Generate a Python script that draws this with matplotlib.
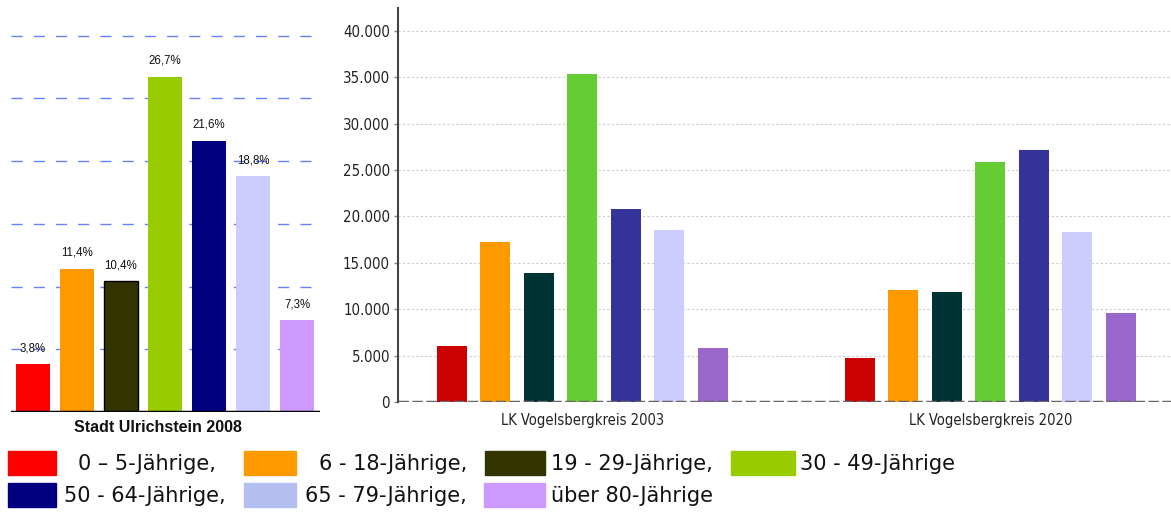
import matplotlib
matplotlib.use("Agg")
import matplotlib.pyplot as plt
from matplotlib.patches import Rectangle
from matplotlib.ticker import FuncFormatter

# data
age_groups = ["0 – 5-Jährige,", "6 - 18-Jährige,", "19 - 29-Jährige,", "30 - 49-Jährige",
              "50 - 64-Jährige,", "65 - 79-Jährige,", "über 80-Jährige"]
ulrichstein_2008 = [3.8, 11.4, 10.4, 26.7, 21.6, 18.8, 7.3]
vogelsberg_2003 = [6000, 17200, 13900, 35300, 20800, 18500, 5800]
vogelsberg_2020 = [4700, 12100, 11800, 25900, 27200, 18300, 9600]
group_labels = ["LK Vogelsbergkreis 2003", "LK Vogelsbergkreis 2020"]

left_colors = ["#ff0000", "#ff9900", "#333300", "#99cc00", "#000080", "#ccccff", "#cc99ff"]
right_colors = ["#cc0000", "#ff9900", "#003333", "#66cc33", "#333399", "#ccccff", "#9966cc"]
legend_colors = ["#ff0000", "#ff9900", "#333300", "#99cc00", "#000080", "#b3bff0", "#cc99ff"]

W, H = 1171, 513
fig = plt.figure(figsize=(W / 100, H / 100), dpi=100)

def px_axes(left, top, right, bottom):
    return fig.add_axes([left / W, 1 - bottom / H, (right - left) / W, (bottom - top) / H])

# left chart: Stadt Ulrichstein 2008
ax1 = px_axes(11, 0, 320, 412)
for i, v in enumerate(ulrichstein_2008):
    ec = "black" if i == 2 else "none"
    ax1.bar(i, v, width=0.77, color=left_colors[i], edgecolor=ec, linewidth=1, zorder=2)
    ax1.text(i, v + 0.8, f"{v:.1f}%".replace(".", ","), ha="center", va="bottom",
             fontsize=8.3, color="#111111", zorder=3,
             family=["Liberation Sans", "DejaVu Sans"])
for g in [5, 10, 15, 20, 25, 30]:
    ax1.axhline(g, color="#6680ff", lw=1, dashes=(8, 8), zorder=1)
ax1.axhline(0, color="black", lw=2.5, zorder=4)
ax1.set_xlim(-0.5, 6.52)
ax1.set_ylim(0, 412 / 12.55)
ax1.axis("off")
fig.text(158 / W, 1 - 428 / H, "Stadt Ulrichstein 2008", ha="center", va="center",
         fontsize=11.5, fontweight="bold", family=["Liberation Sans", "DejaVu Sans"],
         color="#111111")

# right chart: LK Vogelsbergkreis
ax2 = px_axes(398, 8, 1171, 402)
offset = 9.38
for i in range(7):
    ax2.bar(i, vogelsberg_2003[i], width=0.69, color=right_colors[i], zorder=2)
    ax2.bar(i + offset, vogelsberg_2020[i], width=0.69, color=right_colors[i], zorder=2)
ax2.set_xlim(-1.24, 16.53)
ax2.set_ylim(0, 42457)
ax2.set_yticks(range(0, 40001, 5000))
ax2.yaxis.set_major_formatter(FuncFormatter(lambda v, p: f"{int(v):,}".replace(",", ".")))
ax2.set_xticks([3, 3 + offset])
ax2.set_xticklabels(group_labels)
ax2.tick_params(axis="x", length=0, pad=8, labelsize=10.5, labelcolor="#222222")
ax2.tick_params(axis="y", length=3, width=1, color="#888888", pad=2.8, labelsize=10.8,
                labelcolor="#222222")
for lab in ax2.get_xticklabels() + ax2.get_yticklabels():
    lab.set_fontstretch("condensed")
ax2.grid(axis="y", color="#cccccc", lw=0.8, linestyle=(0, (2, 2)), zorder=0)
ax2.axhline(0, color="#666666", lw=2.5, linestyle=(0, (3, 1)), zorder=3)
for s in ["top", "right", "bottom"]:
    ax2.spines[s].set_visible(False)
ax2.spines["left"].set_color("#444444")
ax2.spines["left"].set_linewidth(1.5)

# legend below
patch_x = [(8, 56), (244, 296), (485, 545), (731, 795),
           (8, 56), (244, 296), (484, 545)]
text_x = [78, 319, 551, 800, 64, 305, 551]
row_y = [(451, 475), (451, 475), (451, 475), (451, 475),
         (483, 507), (483, 507), (483, 507)]
for i, lab in enumerate(age_groups):
    x0, x1 = patch_x[i]
    y0, y1 = row_y[i]
    fig.patches.append(Rectangle((x0 / W, 1 - y1 / H), (x1 - x0) / W, (y1 - y0) / H,
                                 transform=fig.transFigure, color=legend_colors[i]))
    fig.text(text_x[i] / W, 1 - (y0 + y1 + 2) / 2 / H, lab, ha="left", va="center",
             fontsize=15, color="#111111")

fig.savefig("out.png", dpi=100)
